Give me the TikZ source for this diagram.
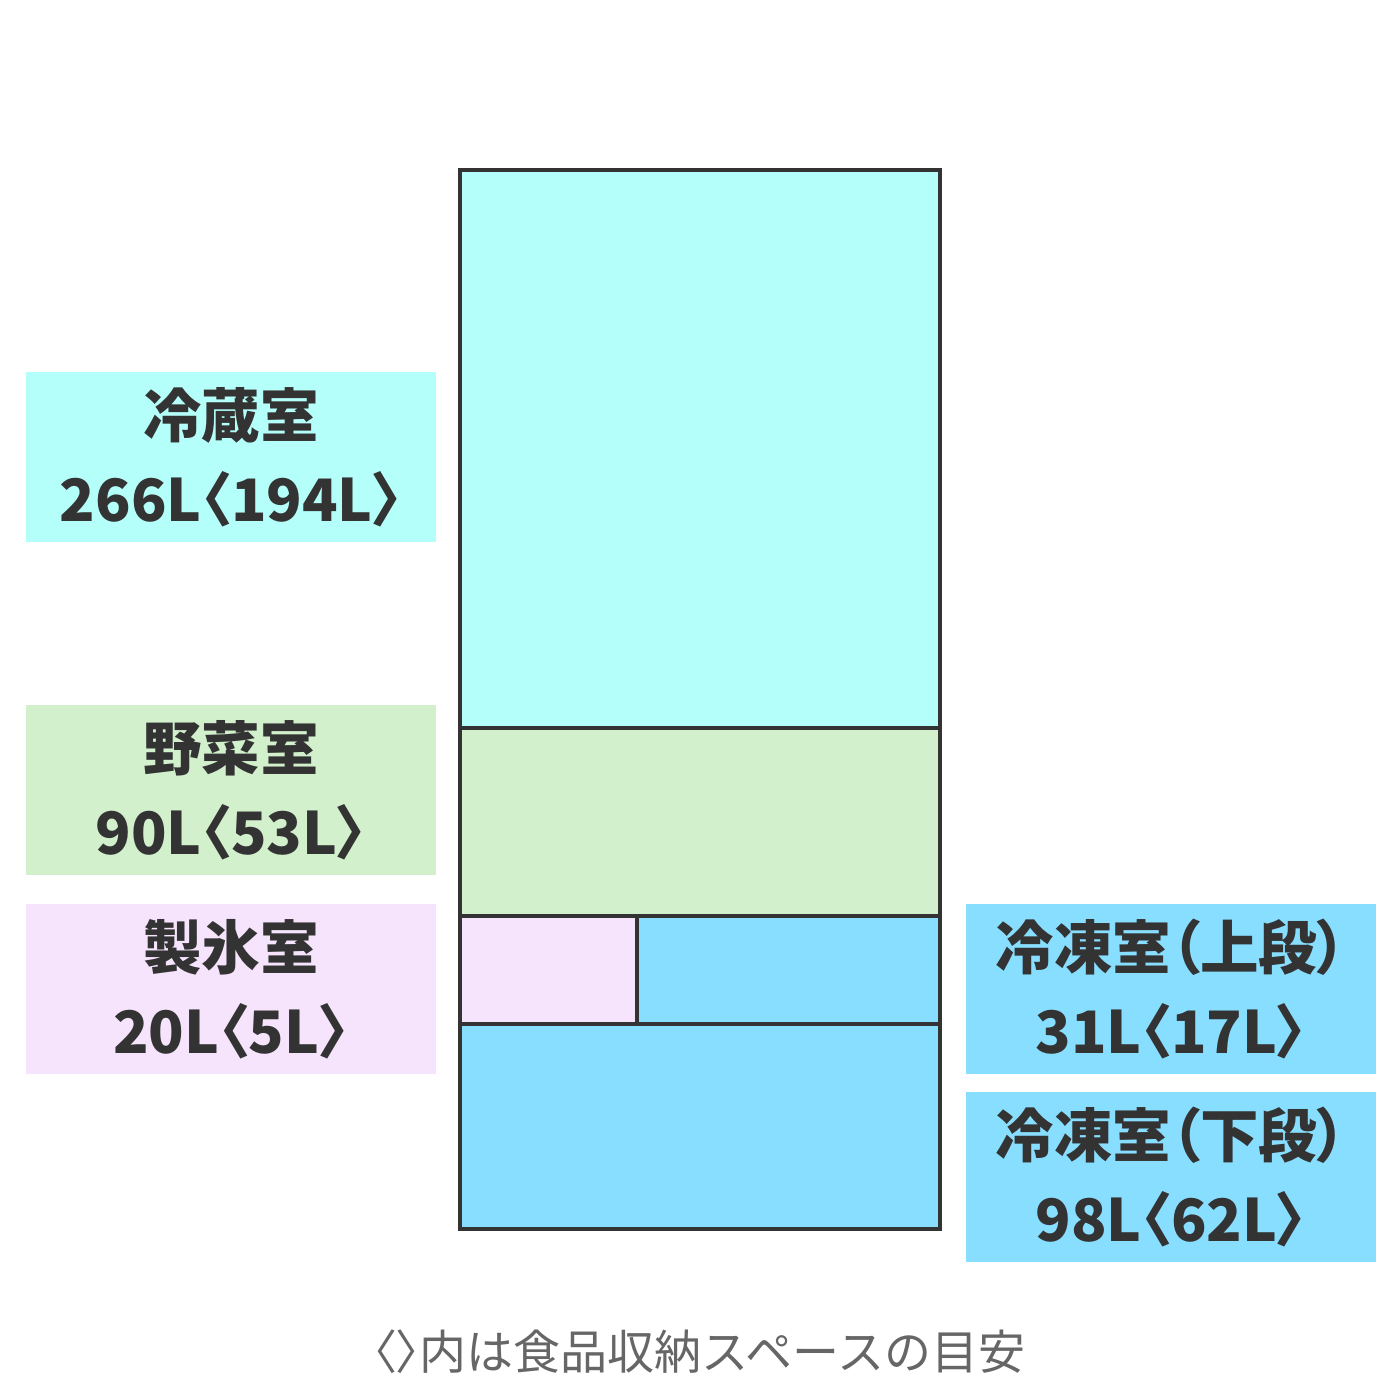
\documentclass[tikz,border=0pt]{standalone}
\usepackage{fontspec}
\setmainfont{Noto Sans CJK JP}[RawFeature=+palt]
\newfontfamily\jpfull{Noto Sans CJK JP}
\definecolor{ink}{HTML}{333333}
\definecolor{note}{HTML}{666666}
\definecolor{cold}{HTML}{B4FFFA}
\definecolor{veg}{HTML}{D2F0CC}
\definecolor{ice}{HTML}{F6E4FD}
\definecolor{frz}{HTML}{88DEFF}
\begin{document}
\begin{tikzpicture}[x=1pt,y=-1pt,
  lab/.style={inner sep=0pt, minimum width=410pt, minimum height=170pt, align=center, text=ink,
    font=\fontsize{58.5}{84}\selectfont\bfseries},
  frame/.style={draw=ink, line width=4pt}]
\useasboundingbox (0,0) rectangle (1400,1400);
\fill[white] (0,0) rectangle (1400,1400);
% compartments
\fill[cold] (460,170) rectangle (940,728);
\fill[veg] (460,728) rectangle (940,916);
\fill[ice] (460,916) rectangle (637,1024);
\fill[frz] (637,916) rectangle (940,1024);
\fill[frz] (460,1024) rectangle (940,1229);
\draw[frame] (460,728) -- (940,728);
\draw[frame] (460,916) -- (940,916);
\draw[frame] (460,1024) -- (940,1024);
\draw[frame] (637,916) -- (637,1024);
\draw[frame] (460,170) rectangle (940,1229);
% labels
\node[lab, fill=cold] (lcold) at (231,457) {冷蔵室\\266L〈194L〉};
\node[lab, fill=veg] (lveg) at (231,790) {野菜室\\90L〈53L〉};
\node[lab, fill=ice] (lice) at (231,989) {製氷室\\20L〈5L〉};
\node[lab, fill=frz] (lfu) at (1171,989) {冷凍室（上段）\\31L〈17L〉};
\node[lab, fill=frz] (lfl) at (1171,1177) {冷凍室（下段）\\98L〈62L〉};
\node[text=note, font=\fontsize{47}{50}\selectfont, inner sep=0pt] (nt) at (699,1352) {〈〉{\jpfull 内は食品収納スペースの目安}};
\end{tikzpicture}
\end{document}
